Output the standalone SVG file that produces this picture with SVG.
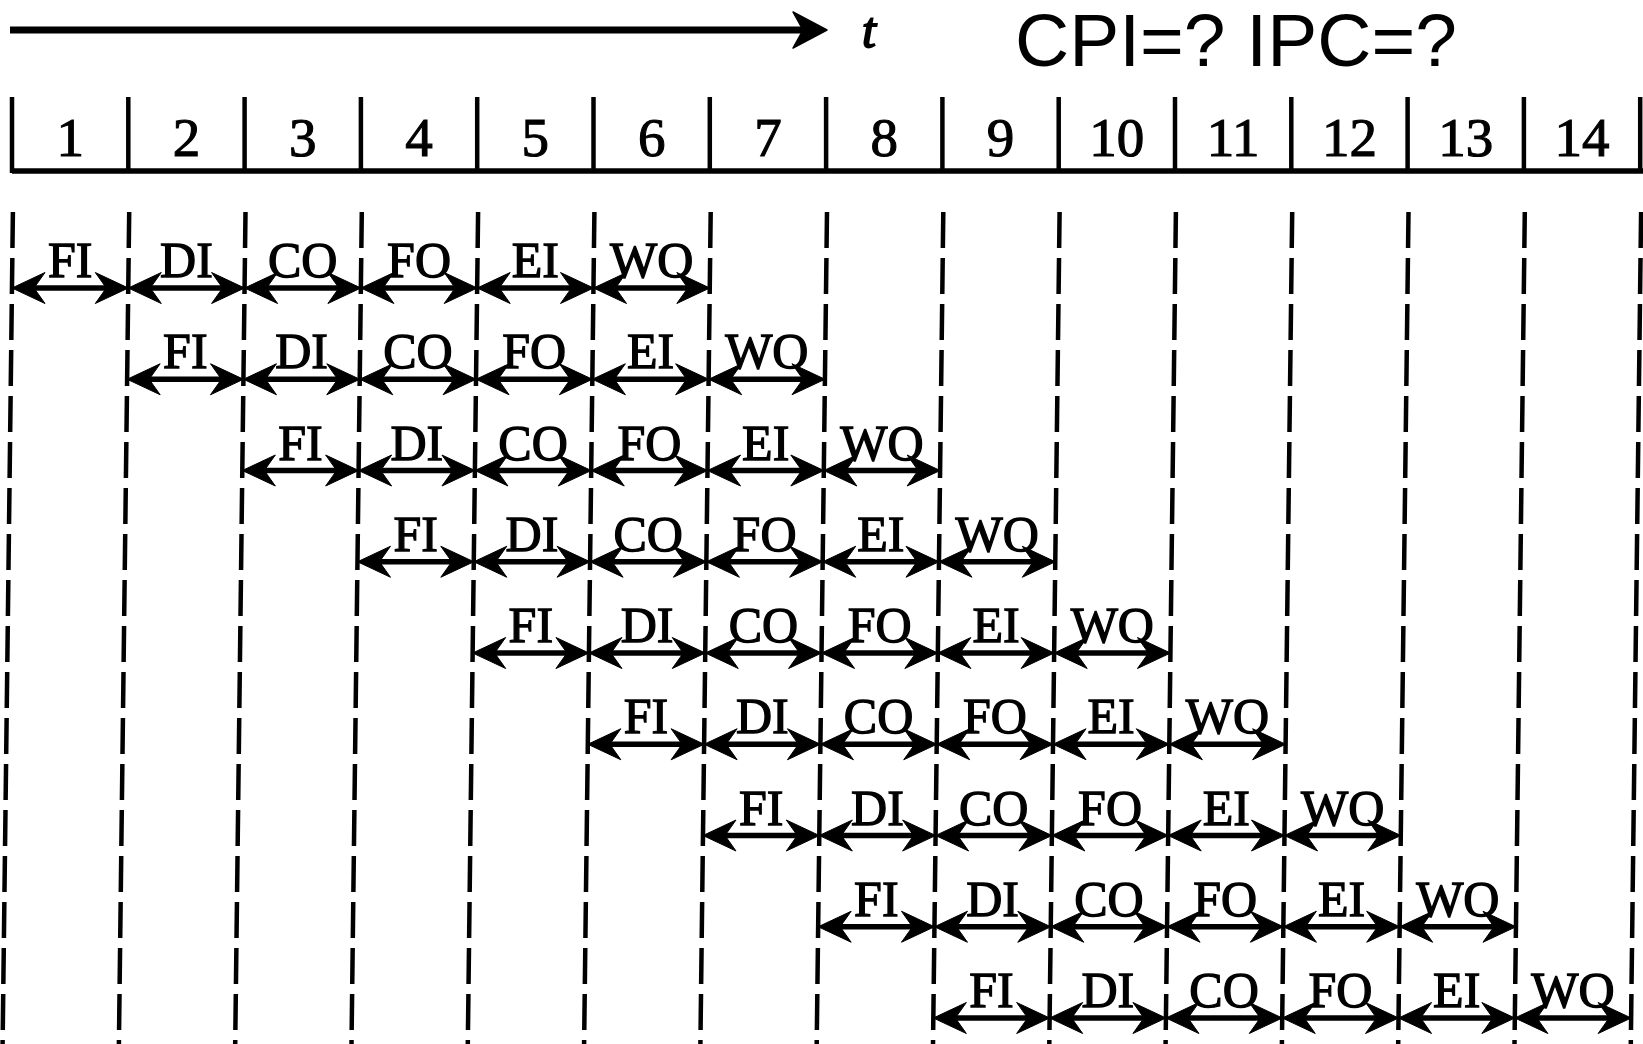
<svg xmlns="http://www.w3.org/2000/svg" width="1643" height="1044" viewBox="0 0 1643 1044">
  <defs>
    <style>
      .num { font-family: "Liberation Serif", "Times New Roman", serif; font-size: 55px; text-anchor: middle; fill: #000; stroke: #000; stroke-width: 1.1; }
      .lbl { font-family: "Liberation Serif", "Times New Roman", serif; font-size: 50px; text-anchor: middle; fill: #000; stroke: #000; stroke-width: 1.3; }
      .tick { stroke: #000; stroke-width: 4.5; }
      .base { stroke: #000; stroke-width: 5.5; }
      .grid { stroke: #000; stroke-width: 4.5; stroke-dasharray: 36 10; }
      .arr { stroke: #000; stroke-width: 5.5; fill: none; marker-start: url(#head); marker-end: url(#head); }
    </style>
    <!-- barbed arrowhead, tip 15px beyond the line end -->
    <marker id="head" viewBox="-19 -17 36 34" markerWidth="36" markerHeight="34" refX="0" refY="0" orient="auto-start-reverse" markerUnits="userSpaceOnUse" overflow="visible">
      <path d="M15,0 L-18,-15.5 L-7,0 L-18,15.5 Z" fill="#000" stroke="#000" stroke-width="1" stroke-linejoin="round"/>
    </marker>
  </defs>

  <rect width="1643" height="1044" fill="#fff"/>

  <!-- time axis -->
  <g id="time-axis">
    <line x1="10" y1="30" x2="805" y2="30" stroke="#000" stroke-width="7"/>
    <polygon points="827,30 793,12 803,30 793,48" fill="#000" stroke="#000" stroke-width="1.5" stroke-linejoin="round"/>
    <text x="862" y="47" font-family="Liberation Serif, serif" font-style="italic" font-size="50" fill="#000" stroke="#000" stroke-width="1.8">t</text>
  </g>

  <g id="question">
    <text x="1015" y="66" font-family="Liberation Sans, Arial, sans-serif" font-size="75" fill="#000">CPI=? IPC=?</text>
  </g>

  <!-- clock-cycle header -->
  <g id="cycle-header">
    <line class="base" x1="12" y1="171" x2="1643" y2="171"/>
    <line class="tick" x1="12" y1="97" x2="12" y2="173"/>
    <line class="tick" x1="128.3" y1="97" x2="128.3" y2="173"/>
    <line class="tick" x1="244.6" y1="97" x2="244.6" y2="173"/>
    <line class="tick" x1="360.9" y1="97" x2="360.9" y2="173"/>
    <line class="tick" x1="477.2" y1="97" x2="477.2" y2="173"/>
    <line class="tick" x1="593.5" y1="97" x2="593.5" y2="173"/>
    <line class="tick" x1="709.8" y1="97" x2="709.8" y2="173"/>
    <line class="tick" x1="826.1" y1="97" x2="826.1" y2="173"/>
    <line class="tick" x1="942.4" y1="97" x2="942.4" y2="173"/>
    <line class="tick" x1="1058.7" y1="97" x2="1058.7" y2="173"/>
    <line class="tick" x1="1175" y1="97" x2="1175" y2="173"/>
    <line class="tick" x1="1291.3" y1="97" x2="1291.3" y2="173"/>
    <line class="tick" x1="1407.6" y1="97" x2="1407.6" y2="173"/>
    <line class="tick" x1="1523.9" y1="97" x2="1523.9" y2="173"/>
    <line class="tick" x1="1640.2" y1="97" x2="1640.2" y2="173"/>
    <text class="num" x="70.15" y="156">1</text>
    <text class="num" x="186.45" y="156">2</text>
    <text class="num" x="302.75" y="156">3</text>
    <text class="num" x="419.05" y="156">4</text>
    <text class="num" x="535.35" y="156">5</text>
    <text class="num" x="651.65" y="156">6</text>
    <text class="num" x="767.95" y="156">7</text>
    <text class="num" x="884.25" y="156">8</text>
    <text class="num" x="1000.55" y="156">9</text>
    <text class="num" x="1116.85" y="156">10</text>
    <text class="num" x="1233.15" y="156">11</text>
    <text class="num" x="1349.45" y="156">12</text>
    <text class="num" x="1465.75" y="156">13</text>
    <text class="num" x="1582.05" y="156">14</text>
  </g>

  <!-- dashed cycle boundaries -->
  <g id="cycle-boundaries">
    <line class="grid" x1="12.9" y1="212" x2="2.6" y2="1044"/>
    <line class="grid" x1="129.2" y1="212" x2="118.9" y2="1044"/>
    <line class="grid" x1="245.5" y1="212" x2="235.2" y2="1044"/>
    <line class="grid" x1="361.8" y1="212" x2="351.5" y2="1044"/>
    <line class="grid" x1="478.1" y1="212" x2="467.8" y2="1044"/>
    <line class="grid" x1="594.4" y1="212" x2="584.1" y2="1044"/>
    <line class="grid" x1="710.7" y1="212" x2="700.4" y2="1044"/>
    <line class="grid" x1="827" y1="212" x2="816.7" y2="1044"/>
    <line class="grid" x1="943.3" y1="212" x2="933" y2="1044"/>
    <line class="grid" x1="1059.6" y1="212" x2="1049.3" y2="1044"/>
    <line class="grid" x1="1175.9" y1="212" x2="1165.6" y2="1044"/>
    <line class="grid" x1="1292.2" y1="212" x2="1281.9" y2="1044"/>
    <line class="grid" x1="1408.5" y1="212" x2="1398.2" y2="1044"/>
    <line class="grid" x1="1524.8" y1="212" x2="1514.5" y2="1044"/>
    <line class="grid" x1="1641.1" y1="212" x2="1630.8" y2="1044"/>
  </g>

  <!-- stage arrows, one row per instruction -->
  <g id="connectors">
    <g transform="translate(0,288)">
      <line class="arr" x1="27" y1="0" x2="113.3" y2="0"/>
      <line class="arr" x1="143.3" y1="0" x2="229.6" y2="0"/>
      <line class="arr" x1="259.6" y1="0" x2="345.9" y2="0"/>
      <line class="arr" x1="375.9" y1="0" x2="462.2" y2="0"/>
      <line class="arr" x1="492.2" y1="0" x2="578.5" y2="0"/>
      <line class="arr" x1="608.5" y1="0" x2="694.8" y2="0"/>
    </g>
    <g transform="translate(-1.13,379.25)">
      <line class="arr" x1="143.3" y1="0" x2="229.6" y2="0"/>
      <line class="arr" x1="259.6" y1="0" x2="345.9" y2="0"/>
      <line class="arr" x1="375.9" y1="0" x2="462.2" y2="0"/>
      <line class="arr" x1="492.2" y1="0" x2="578.5" y2="0"/>
      <line class="arr" x1="608.5" y1="0" x2="694.8" y2="0"/>
      <line class="arr" x1="724.8" y1="0" x2="811.1" y2="0"/>
    </g>
    <g transform="translate(-2.26,470.5)">
      <line class="arr" x1="259.6" y1="0" x2="345.9" y2="0"/>
      <line class="arr" x1="375.9" y1="0" x2="462.2" y2="0"/>
      <line class="arr" x1="492.2" y1="0" x2="578.5" y2="0"/>
      <line class="arr" x1="608.5" y1="0" x2="694.8" y2="0"/>
      <line class="arr" x1="724.8" y1="0" x2="811.1" y2="0"/>
      <line class="arr" x1="841.1" y1="0" x2="927.4" y2="0"/>
    </g>
    <g transform="translate(-3.4,561.75)">
      <line class="arr" x1="375.9" y1="0" x2="462.2" y2="0"/>
      <line class="arr" x1="492.2" y1="0" x2="578.5" y2="0"/>
      <line class="arr" x1="608.5" y1="0" x2="694.8" y2="0"/>
      <line class="arr" x1="724.8" y1="0" x2="811.1" y2="0"/>
      <line class="arr" x1="841.1" y1="0" x2="927.4" y2="0"/>
      <line class="arr" x1="957.4" y1="0" x2="1043.7" y2="0"/>
    </g>
    <g transform="translate(-4.53,653)">
      <line class="arr" x1="492.2" y1="0" x2="578.5" y2="0"/>
      <line class="arr" x1="608.5" y1="0" x2="694.8" y2="0"/>
      <line class="arr" x1="724.8" y1="0" x2="811.1" y2="0"/>
      <line class="arr" x1="841.1" y1="0" x2="927.4" y2="0"/>
      <line class="arr" x1="957.4" y1="0" x2="1043.7" y2="0"/>
      <line class="arr" x1="1073.7" y1="0" x2="1160" y2="0"/>
    </g>
    <g transform="translate(-5.66,744.25)">
      <line class="arr" x1="608.5" y1="0" x2="694.8" y2="0"/>
      <line class="arr" x1="724.8" y1="0" x2="811.1" y2="0"/>
      <line class="arr" x1="841.1" y1="0" x2="927.4" y2="0"/>
      <line class="arr" x1="957.4" y1="0" x2="1043.7" y2="0"/>
      <line class="arr" x1="1073.7" y1="0" x2="1160" y2="0"/>
      <line class="arr" x1="1190" y1="0" x2="1276.3" y2="0"/>
    </g>
    <g transform="translate(-6.79,835.5)">
      <line class="arr" x1="724.8" y1="0" x2="811.1" y2="0"/>
      <line class="arr" x1="841.1" y1="0" x2="927.4" y2="0"/>
      <line class="arr" x1="957.4" y1="0" x2="1043.7" y2="0"/>
      <line class="arr" x1="1073.7" y1="0" x2="1160" y2="0"/>
      <line class="arr" x1="1190" y1="0" x2="1276.3" y2="0"/>
      <line class="arr" x1="1306.3" y1="0" x2="1392.6" y2="0"/>
    </g>
    <g transform="translate(-7.92,926.75)">
      <line class="arr" x1="841.1" y1="0" x2="927.4" y2="0"/>
      <line class="arr" x1="957.4" y1="0" x2="1043.7" y2="0"/>
      <line class="arr" x1="1073.7" y1="0" x2="1160" y2="0"/>
      <line class="arr" x1="1190" y1="0" x2="1276.3" y2="0"/>
      <line class="arr" x1="1306.3" y1="0" x2="1392.6" y2="0"/>
      <line class="arr" x1="1422.6" y1="0" x2="1508.9" y2="0"/>
    </g>
    <g transform="translate(-9.05,1018)">
      <line class="arr" x1="957.4" y1="0" x2="1043.7" y2="0"/>
      <line class="arr" x1="1073.7" y1="0" x2="1160" y2="0"/>
      <line class="arr" x1="1190" y1="0" x2="1276.3" y2="0"/>
      <line class="arr" x1="1306.3" y1="0" x2="1392.6" y2="0"/>
      <line class="arr" x1="1422.6" y1="0" x2="1508.9" y2="0"/>
      <line class="arr" x1="1538.9" y1="0" x2="1625.2" y2="0"/>
    </g>
  </g>

  <!-- stage labels per instruction -->
  <g id="instr-1" transform="translate(0,277)">
    <text class="lbl" x="70.15">FI</text><text class="lbl" x="186.45">DI</text><text class="lbl" x="302.75">CO</text>
    <text class="lbl" x="419.05">FO</text><text class="lbl" x="535.35">EI</text><text class="lbl" x="651.65">WO</text>
  </g>
  <g id="instr-2" transform="translate(-1.13,368.25)">
    <text class="lbl" x="186.45">FI</text><text class="lbl" x="302.75">DI</text><text class="lbl" x="419.05">CO</text>
    <text class="lbl" x="535.35">FO</text><text class="lbl" x="651.65">EI</text><text class="lbl" x="767.95">WO</text>
  </g>
  <g id="instr-3" transform="translate(-2.26,459.5)">
    <text class="lbl" x="302.75">FI</text><text class="lbl" x="419.05">DI</text><text class="lbl" x="535.35">CO</text>
    <text class="lbl" x="651.65">FO</text><text class="lbl" x="767.95">EI</text><text class="lbl" x="884.25">WO</text>
  </g>
  <g id="instr-4" transform="translate(-3.4,550.75)">
    <text class="lbl" x="419.05">FI</text><text class="lbl" x="535.35">DI</text><text class="lbl" x="651.65">CO</text>
    <text class="lbl" x="767.95">FO</text><text class="lbl" x="884.25">EI</text><text class="lbl" x="1000.55">WO</text>
  </g>
  <g id="instr-5" transform="translate(-4.53,642)">
    <text class="lbl" x="535.35">FI</text><text class="lbl" x="651.65">DI</text><text class="lbl" x="767.95">CO</text>
    <text class="lbl" x="884.25">FO</text><text class="lbl" x="1000.55">EI</text><text class="lbl" x="1116.85">WO</text>
  </g>
  <g id="instr-6" transform="translate(-5.66,733.25)">
    <text class="lbl" x="651.65">FI</text><text class="lbl" x="767.95">DI</text><text class="lbl" x="884.25">CO</text>
    <text class="lbl" x="1000.55">FO</text><text class="lbl" x="1116.85">EI</text><text class="lbl" x="1233.15">WO</text>
  </g>
  <g id="instr-7" transform="translate(-6.79,824.5)">
    <text class="lbl" x="767.95">FI</text><text class="lbl" x="884.25">DI</text><text class="lbl" x="1000.55">CO</text>
    <text class="lbl" x="1116.85">FO</text><text class="lbl" x="1233.15">EI</text><text class="lbl" x="1349.45">WO</text>
  </g>
  <g id="instr-8" transform="translate(-7.92,915.75)">
    <text class="lbl" x="884.25">FI</text><text class="lbl" x="1000.55">DI</text><text class="lbl" x="1116.85">CO</text>
    <text class="lbl" x="1233.15">FO</text><text class="lbl" x="1349.45">EI</text><text class="lbl" x="1465.75">WO</text>
  </g>
  <g id="instr-9" transform="translate(-9.05,1007)">
    <text class="lbl" x="1000.55">FI</text><text class="lbl" x="1116.85">DI</text><text class="lbl" x="1233.15">CO</text>
    <text class="lbl" x="1349.45">FO</text><text class="lbl" x="1465.75">EI</text><text class="lbl" x="1582.05">WO</text>
  </g>
</svg>
